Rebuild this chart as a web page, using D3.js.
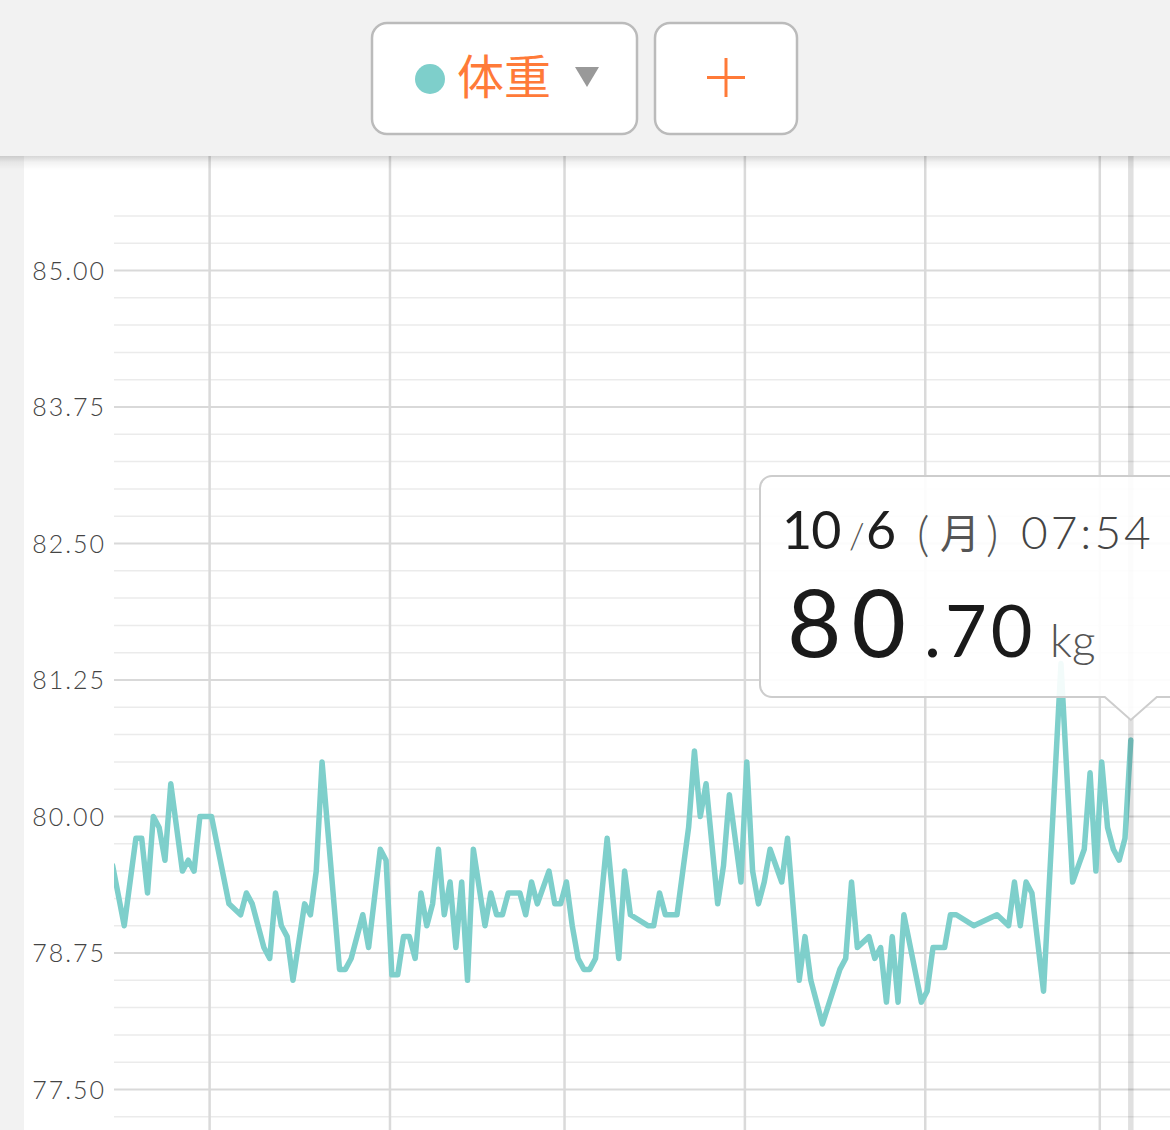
<!DOCTYPE html>
<html><head><meta charset="utf-8">
<script src="https://cdn.jsdelivr.net/npm/d3@7"></script>
<style>
html,body{margin:0;padding:0;background:#f2f2f2;overflow:hidden;}
svg{display:block;}
</style></head><body>
<svg id="c" width="1170" height="1130"></svg>
<script>
// ---------- data ----------
const dates = [
"2025-04-14","2025-04-16","2025-04-18","2025-04-19","2025-04-20","2025-04-21","2025-04-22","2025-04-23","2025-04-24","2025-04-26",
"2025-04-27","2025-04-28","2025-04-29","2025-05-01","2025-05-04","2025-05-06","2025-05-07","2025-05-08","2025-05-10","2025-05-11",
"2025-05-12","2025-05-13","2025-05-14","2025-05-15","2025-05-17","2025-05-18","2025-05-19","2025-05-20","2025-05-23","2025-05-24",
"2025-05-25","2025-05-27","2025-05-28","2025-05-30","2025-05-31","2025-06-01","2025-06-02","2025-06-03","2025-06-04","2025-06-05",
"2025-06-06","2025-06-07","2025-06-08","2025-06-09","2025-06-10","2025-06-11","2025-06-12","2025-06-13","2025-06-14","2025-06-15",
"2025-06-17","2025-06-18","2025-06-19","2025-06-20","2025-06-21","2025-06-23","2025-06-24","2025-06-25","2025-06-26","2025-06-28",
"2025-06-29","2025-06-30","2025-07-01","2025-07-02","2025-07-03","2025-07-04","2025-07-05","2025-07-06","2025-07-08","2025-07-10",
"2025-07-11","2025-07-12","2025-07-15","2025-07-16","2025-07-17","2025-07-18","2025-07-20","2025-07-21","2025-07-22","2025-07-23",
"2025-07-24","2025-07-25","2025-07-27","2025-07-28","2025-07-29","2025-07-31","2025-08-01","2025-08-02","2025-08-03","2025-08-04",
"2025-08-05","2025-08-07","2025-08-08","2025-08-10","2025-08-11","2025-08-12","2025-08-14","2025-08-17","2025-08-18","2025-08-19",
"2025-08-20","2025-08-22","2025-08-23","2025-08-24","2025-08-25","2025-08-26","2025-08-27","2025-08-28","2025-08-31","2025-09-01",
"2025-09-02","2025-09-04","2025-09-05","2025-09-06","2025-09-09","2025-09-13","2025-09-15","2025-09-16","2025-09-17","2025-09-18",
"2025-09-19","2025-09-21","2025-09-24","2025-09-26","2025-09-27","2025-09-28","2025-09-29","2025-09-30","2025-10-01","2025-10-02",
"2025-10-03","2025-10-04","2025-10-05","2025-10-06"
];
const weights = [
79.55,79.00,79.80,79.80,79.30,80.00,79.90,79.60,80.30,79.50,
79.60,79.50,80.00,80.00,79.20,79.10,79.30,79.20,78.80,78.70,
79.30,79.00,78.90,78.50,79.20,79.10,79.50,80.50,78.60,78.60,
78.70,79.10,78.80,79.70,79.60,78.55,78.55,78.90,78.90,78.70,
79.30,79.00,79.20,79.70,79.10,79.40,78.80,79.40,78.50,79.70,
79.00,79.30,79.10,79.10,79.30,79.30,79.10,79.40,79.20,79.50,
79.20,79.20,79.40,79.00,78.70,78.60,78.60,78.70,79.80,78.70,
79.50,79.10,79.00,79.00,79.30,79.10,79.10,79.50,79.90,80.60,
80.00,80.30,79.20,79.55,80.20,79.40,80.50,79.50,79.20,79.40,
79.70,79.40,79.80,78.50,78.90,78.50,78.10,78.60,78.70,79.40,
78.80,78.90,78.70,78.80,78.30,78.90,78.30,79.10,78.30,78.40,
78.80,78.80,79.10,79.10,79.00,79.10,79.00,79.40,79.00,79.40,
79.30,78.40,81.40,79.40,79.55,79.70,80.40,79.50,80.50,79.90,
79.70,79.60,79.80,80.70
];
const yTickLabels = ["77.50","78.75","80.00","81.25","82.50","83.75","85.00"];
const seriesName = "体重";
const measureTime = "07:54";
const unit = "kg";
const weekdayNames = ["日","月","火","水","木","金","土"];

// ---------- setup ----------
const W = 1170, H = 1130;
const svg = d3.select("#c");
const parse = d3.utcParse("%Y-%m-%d %H:%M");
const pts = dates.map((d, i) => ({ t: parse(d + " " + measureTime), v: weights[i] }));

const plotLeft = 114, panelLeft = 24, panelTop = 150;
const x = d3.scaleUtc()
  .domain([new Date(Date.UTC(2025, 4, 1)), new Date(Date.UTC(2025, 9, 1))])
  .range([209.6, 1099.8]);
const y = d3.scaleLinear().domain([77.5, 85]).range([1089.5, 270.5]);

const teal = "#7ecfcb", orange = "#ff7a38";
const defs = svg.append("defs");
defs.append("clipPath").attr("id", "plotclip")
  .append("rect").attr("x", plotLeft).attr("y", panelTop).attr("width", W - plotLeft).attr("height", H - panelTop);
const sh = defs.append("linearGradient").attr("id", "shadow").attr("x1", 0).attr("x2", 0).attr("y1", 0).attr("y2", 1);
sh.append("stop").attr("offset", "0%").attr("stop-color", "#000").attr("stop-opacity", 0.16);
sh.append("stop").attr("offset", "45%").attr("stop-color", "#000").attr("stop-opacity", 0.05);
sh.append("stop").attr("offset", "100%").attr("stop-color", "#000").attr("stop-opacity", 0);

// background + panel
svg.append("rect").attr("width", W).attr("height", H).attr("fill", "#f2f2f2");
svg.append("rect").attr("x", panelLeft).attr("y", panelTop).attr("width", W - panelLeft).attr("height", H - panelTop).attr("fill", "#fff");

// horizontal grid
const majorVals = yTickLabels.map(Number);
const minorVals = d3.range(77.25, 85.5 + 1e-9, 0.25).filter(v => !majorVals.some(m => Math.abs(m - v) < 1e-6));
svg.append("g").selectAll("line").data(minorVals).join("line")
  .attr("x1", plotLeft).attr("x2", W).attr("y1", d => y(d)).attr("y2", d => y(d))
  .attr("stroke", "#ebebeb").attr("stroke-width", 1.5);
svg.append("g").selectAll("line").data(majorVals).join("line")
  .attr("x1", plotLeft).attr("x2", W).attr("y1", d => y(d)).attr("y2", d => y(d))
  .attr("stroke", "#d9d9d9").attr("stroke-width", 2);

// vertical month grid
const months = d3.utcMonth.range(x.invert(plotLeft), x.invert(W)).filter(d => x(d) >= plotLeft);
svg.append("g").selectAll("line").data(months).join("line")
  .attr("x1", d => x(d)).attr("x2", d => x(d)).attr("y1", panelTop).attr("y2", H)
  .attr("stroke", "#dadada").attr("stroke-width", 2.5);

// y labels
svg.append("g").selectAll("text").data(yTickLabels).join("text")
  .attr("x", 106).attr("y", d => y(+d)).attr("dy", "0.36em")
  .attr("text-anchor", "end")
  .attr("font-family", "Lato, 'Open Sans', sans-serif").attr("font-weight", 300)
  .attr("font-size", 25).attr("letter-spacing", 2).attr("fill", "#444")
  .text(d => d);

// line
const line = d3.line().x(d => x(d.t)).y(d => y(d.v));
svg.append("path").datum(pts).attr("clip-path", "url(#plotclip)")
  .attr("d", line).attr("fill", "none").attr("stroke", teal)
  .attr("stroke-width", 5.5).attr("stroke-linejoin", "round").attr("stroke-linecap", "round");

// current point indicator
const last = pts[pts.length - 1];
const lx = x(last.t);
svg.append("line").attr("x1", lx).attr("x2", lx).attr("y1", panelTop).attr("y2", H)
  .attr("stroke", "#000").attr("stroke-opacity", 0.12).attr("stroke-width", 5.5);

// tooltip
const tb = { left: 760, top: 476, right: 1230, bottom: 697, r: 12 };
const ax = lx, ah = 23, aw = 26;
const tipPath = `M${tb.left + tb.r},${tb.top} H${tb.right} V${tb.bottom} H${ax + aw} L${ax},${tb.bottom + ah} L${ax - aw},${tb.bottom} H${tb.left + tb.r} A${tb.r},${tb.r} 0 0 1 ${tb.left},${tb.bottom - tb.r} V${tb.top + tb.r} A${tb.r},${tb.r} 0 0 1 ${tb.left + tb.r},${tb.top} Z`;
svg.append("path").attr("d", tipPath).attr("fill", "#fff").attr("fill-opacity", 0.9)
  .attr("stroke", "#cdcdcd").attr("stroke-width", 2);

const tipG = svg.append("g").attr("font-family", "Lato, 'Open Sans', sans-serif");
const dt = last.t;
const mon = String(dt.getUTCMonth() + 1), day = String(dt.getUTCDate());
const wd = weekdayNames[dt.getUTCDay()];
const dateBase = 549;
tipG.append("text").attr("x", 782).attr("y", dateBase).attr("font-size", 52).attr("fill", "#1e1e1e").attr("letter-spacing", -1).text(mon);
tipG.append("text").attr("x", 849).attr("y", dateBase).attr("font-size", 36).attr("font-weight", 300).attr("fill", "#555").text("/");
tipG.append("text").attr("x", 866).attr("y", dateBase).attr("font-size", 52).attr("fill", "#1e1e1e").text(day);
tipG.append("text").attr("x", 917).attr("y", dateBase + 2).attr("font-size", 48).attr("font-weight", 300).attr("fill", "#555").text("(");
tipG.append("text").attr("x", 940).attr("y", dateBase - 1).attr("font-size", 40)
  .attr("font-family", "'Noto Sans CJK JP', sans-serif").attr("font-weight", 400).attr("fill", "#555").text(wd);
tipG.append("text").attr("x", 986).attr("y", dateBase + 2).attr("font-size", 48).attr("font-weight", 300).attr("fill", "#555").text(")");
tipG.append("text").attr("x", 1021).attr("y", dateBase).attr("font-size", 46).attr("font-weight", 300)
  .attr("letter-spacing", 3).attr("fill", "#444").text(measureTime);

const vStr = last.v.toFixed(2).split(".");
const valBase = 657;
tipG.append("text").attr("x", 787).attr("y", valBase).attr("font-size", 94).attr("letter-spacing", 10).attr("fill", "#1a1a1a").text(vStr[0]);
tipG.append("text").attr("x", 924).attr("y", valBase).attr("font-size", 72).attr("letter-spacing", 4).attr("fill", "#1a1a1a").text("." + vStr[1]);
tipG.append("text").attr("x", 1050).attr("y", valBase).attr("font-size", 46).attr("font-weight", 300).attr("fill", "#555").text(unit);

// header
svg.append("rect").attr("x", 0).attr("y", 0).attr("width", W).attr("height", 156).attr("fill", "#f2f2f2");
svg.append("rect").attr("x", 0).attr("y", 156).attr("width", W).attr("height", 14).attr("fill", "url(#shadow)");

// dropdown button
const btn = svg.append("g");
btn.append("rect").attr("x", 372).attr("y", 23).attr("width", 265).attr("height", 111).attr("rx", 15)
  .attr("fill", "#fff").attr("stroke", "#bbbbbb").attr("stroke-width", 2.5);
btn.append("circle").attr("cx", 430).attr("cy", 79).attr("r", 15).attr("fill", teal);
btn.append("text").attr("x", 457).attr("y", 77).attr("dy", "0.36em")
  .attr("font-family", "'Noto Sans CJK JP', sans-serif").attr("font-size", 47).attr("fill", orange).text(seriesName);
btn.append("path").attr("d", "M575,67 L599,67 L587,87 Z").attr("fill", "#999");

// plus button
const pb = svg.append("g");
pb.append("rect").attr("x", 655).attr("y", 23).attr("width", 142).attr("height", 111).attr("rx", 15)
  .attr("fill", "#fff").attr("stroke", "#bbbbbb").attr("stroke-width", 2.5);
pb.append("line").attr("x1", 707).attr("x2", 745).attr("y1", 77.5).attr("y2", 77.5).attr("stroke", orange).attr("stroke-width", 3);
pb.append("line").attr("x1", 726).attr("x2", 726).attr("y1", 58).attr("y2", 97).attr("stroke", orange).attr("stroke-width", 3);
</script>
</body></html>
